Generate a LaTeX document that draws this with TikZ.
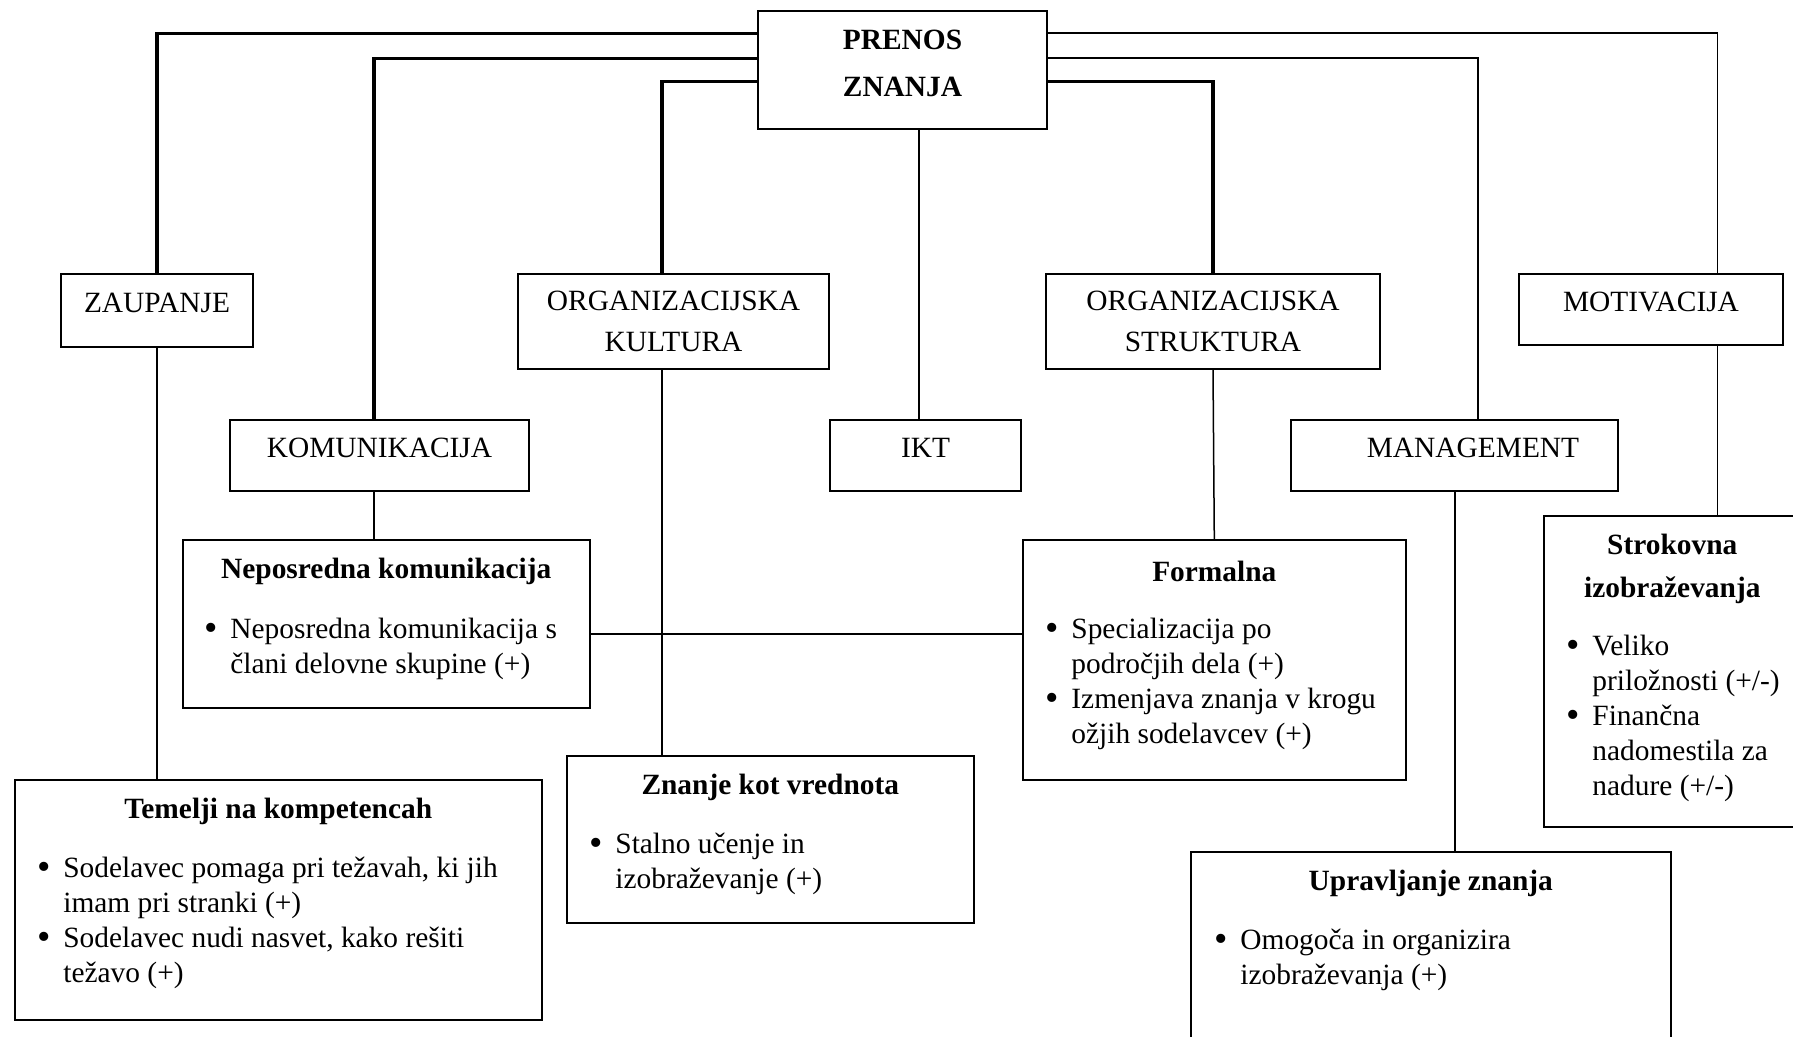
\documentclass[tikz,border=0pt]{standalone}
\usepackage{fontspec}
\setmainfont{Liberation Serif}
\usetikzlibrary{positioning}

\newcommand{\bpt}{\makebox[13pt][l]{\raisebox{-0.7pt}{\scalebox{1.3}{\textbullet}}}}
\newcommand{\bind}{\hspace*{13pt}}

\begin{document}
\begin{tikzpicture}[
    x=0.5pt, y=-0.5pt,
    every node/.style={font=\fontsize{14.7}{17.5}\selectfont},
    cellbox/.style={draw, line width=0.8pt, inner sep=0pt},
    lvlbox/.style={cellbox, align=center, font=\fontsize{14.7}{20.5}\selectfont},
    onebox/.style={lvlbox, text depth=8pt},
    infobox/.style={cellbox, anchor=north west},
    ttl/.style={font=\fontsize{14.7}{21.5}\selectfont\bfseries, align=center},
    blist/.style={align=left, inner sep=0pt},
    wline/.style={line width=1.6pt},
    mline/.style={line width=1pt},
    tline/.style={line width=0.75pt},
]
\useasboundingbox (0,0) rectangle (1793,1037);

% === Top ===
\node[lvlbox, font=\fontsize{14.7}{23.5}\selectfont\bfseries, text depth=6.5pt,
      minimum width=144.5pt, minimum height=59pt] (prenos) at (902.5,70) {PRENOS\\ZNANJA};

% === Second row ===
\node[onebox, minimum width=96pt, minimum height=36.5pt] (zaupanje) at (157,310.5) {ZAUPANJE};
\node[lvlbox, minimum width=155.5pt, minimum height=47.5pt] (kultura) at (673.5,321.5) {ORGANIZACIJSKA\\KULTURA};
\node[lvlbox, minimum width=167pt, minimum height=47.5pt] (struktura) at (1213,321.5) {ORGANIZACIJSKA\\STRUKTURA};
\node[onebox, minimum width=132pt, minimum height=35.5pt] (motivacija) at (1651,309.5) {MOTIVACIJA};

% === Third row ===
\node[onebox, minimum width=149.5pt, minimum height=35.5pt] (komunikacija) at (379.5,455.5) {KOMUNIKACIJA};
\node[onebox, minimum width=95.5pt, minimum height=35.5pt] (ikt) at (925.5,455.5) {IKT};
\node[onebox, minimum width=163.5pt, minimum height=35.5pt] (management) at (1454.5,455.5) {\hspace*{18.5pt}MANAGEMENT};

% === Detail boxes ===
\node[infobox, minimum width=203.5pt, minimum height=84pt] (neposredna) at (182,539) {};
\node[ttl] (neposrednaT) at ([yshift=-16pt]neposredna.north) {Neposredna komunikacija};
\node[blist, below right=39.5pt and 11pt of neposredna.north west] (neposrednaL)
    {\bpt Neposredna komunikacija s\\\bind člani delovne skupine (+)};

\node[infobox, minimum width=191.5pt, minimum height=120pt] (formalna) at (1022,539) {};
\node[ttl] (formalnaT) at ([yshift=-16pt]formalna.north) {Formalna};
\node[blist, below right=39.5pt and 11.5pt of formalna.north west] (formalnaL)
    {\bpt Specializacija po\\\bind področjih dela (+)\\
     \bpt Izmenjava znanja v krogu\\\bind ožjih sodelavcev (+)};

\node[infobox, minimum width=128.5pt, minimum height=155.5pt] (strokovna) at (1543,515) {};
\node[ttl] (strokovnaT) at ([yshift=-27pt]strokovna.north) {Strokovna\\izobraževanja};
\node[blist, below right=60pt and 11.5pt of strokovna.north west] (strokovnaL)
    {\bpt Veliko\\\bind priložnosti (+/-)\\
     \bpt Finančna\\\bind nadomestila za\\\bind nadure (+/-)};

\node[infobox, minimum width=263.5pt, minimum height=120pt] (temelji) at (14,779) {};
\node[ttl] (temeljiT) at ([yshift=-16pt]temelji.north) {Temelji na kompetencah};
\node[blist, below right=39pt and 11.5pt of temelji.north west] (temeljiL)
    {\bpt Sodelavec pomaga pri težavah, ki jih\\\bind imam pri stranki (+)\\
     \bpt Sodelavec nudi nasvet, kako rešiti\\\bind težavo (+)};

\node[infobox, minimum width=203.5pt, minimum height=83.5pt] (znanje) at (566,755) {};
\node[ttl] (znanjeT) at ([yshift=-16pt]znanje.north) {Znanje kot vrednota};
\node[blist, below right=39pt and 11.5pt of znanje.north west] (znanjeL)
    {\bpt Stalno učenje in\\\bind izobraževanje (+)};

\node[infobox, minimum width=240pt, minimum height=99.5pt] (upravljanje) at (1190,851) {};
\node[ttl] (upravljanjeT) at ([yshift=-16pt]upravljanje.north) {Upravljanje znanja};
\node[blist, below right=39pt and 12pt of upravljanje.north west] (upravljanjeL)
    {\bpt Omogoča in organizira\\\bind izobraževanja (+)};

% === Connectors from PRENOS ZNANJA ===
\draw[wline] ([yshift=-11.5pt]prenos.north west) -| (zaupanje.north);
\draw[wline] ([yshift=-24pt]prenos.north west) -| ([xshift=-2.75pt]komunikacija.north);
\draw[wline] ([yshift=-35.5pt]prenos.north west) -| ([xshift=-5.75pt]kultura.north);
\draw[wline] ([yshift=-35.5pt]prenos.north east) -| (struktura.north);
\draw[mline] ([yshift=-24pt]prenos.north east) -| ([xshift=11.75pt]management.north);
\draw[tline] ([yshift=-11.5pt]prenos.north east) -| ([xshift=33.25pt]motivacija.north);
\draw[tline] ([xshift=-3.25pt]ikt.north) -- ([xshift=-3.25pt]ikt.north |- prenos.south);

% === Connectors to detail boxes ===
\draw[tline] (zaupanje.south) -- (zaupanje.south |- temelji.north);
\draw[tline] ([xshift=-2.75pt]komunikacija.south) -- ([xshift=-2.75pt]komunikacija.south |- neposredna.north);
\draw[tline] ([xshift=-5.75pt]kultura.south) -- ([xshift=-5.75pt]kultura.south |- znanje.north);
\draw[tline] (struktura.south) -- (formalna.north);
\draw[mline] (management.south) -- (management.south |- upravljanje.north);
\draw[tline] ([xshift=33.25pt]motivacija.south) -- ([xshift=33.25pt]motivacija.south |- strokovna.north);
\draw[tline] ([yshift=-5pt]neposredna.east) -- ([yshift=-5pt]neposredna.east -| formalna.west);

\end{tikzpicture}
\end{document}
